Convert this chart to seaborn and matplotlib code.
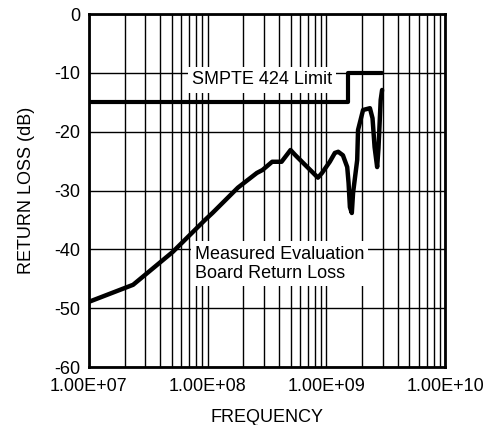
import seaborn as sns
import pandas as pd
import matplotlib.pyplot as plt
import matplotlib.ticker as mticker

# measured return loss
freq = [1.0e7, 2.36e7, 5.1e7, 9.5e7, 1.1e8, 1.8e8, 2.6e8, 2.9e8, 3.5e8, 4.2e8,
        5.0e8, 5.5e8, 8.5e8, 9.2e8, 1.07e9, 1.18e9, 1.26e9, 1.38e9, 1.5e9, 1.54e9,
        1.58e9, 1.64e9, 1.68e9, 1.82e9, 1.85e9, 2.04e9, 2.33e9, 2.45e9, 2.55e9,
        2.68e9, 2.75e9, 2.87e9, 2.95e9]
loss = [-48.9, -46.0, -40.4, -35.0, -33.8, -29.5, -27.0, -26.5, -25.1, -25.1,
        -23.1, -24.0, -27.8, -27.0, -25.1, -23.6, -23.4, -24.0, -26.0, -28.7,
        -32.8, -33.8, -30.4, -24.8, -19.7, -16.3, -16.0, -17.7, -22.6,
        -26.0, -22.8, -14.6, -12.9]

# SMPTE 424 limit (step)
limit_freq = [1.0e7, 1.52e9, 1.52e9, 2.95e9]
limit_loss = [-15, -15, -10, -10]

df_meas = pd.DataFrame({"freq": freq, "loss": loss})
df_lim = pd.DataFrame({"freq": limit_freq, "loss": limit_loss})

sns.set_style("white")
plt.rcParams["font.family"] = ["Liberation Sans", "DejaVu Sans"]
plt.rcParams["axes.unicode_minus"] = False
plt.rcParams["text.color"] = "black"
plt.rcParams["axes.labelcolor"] = "black"
plt.rcParams["xtick.color"] = "black"
plt.rcParams["ytick.color"] = "black"

fig = plt.figure(figsize=(4.88, 4.25), dpi=100)
ax = fig.add_axes([0.182, 0.136, 0.730, 0.831])

sns.lineplot(ax=ax, data=df_lim, x="freq", y="loss", color="black", lw=3,
             sort=False, estimator=None)
sns.lineplot(ax=ax, data=df_meas, x="freq", y="loss", color="black", lw=3.2,
             sort=False, estimator=None)

ax.set_xscale("log")
ax.set_xlim(1e7, 1e10)
ax.set_ylim(-60, 0)
ax.set_yticks(range(-60, 1, 10))
ax.yaxis.set_major_formatter(mticker.FuncFormatter(lambda v, p: "%d" % v))
ax.xaxis.set_major_locator(mticker.FixedLocator([1e7, 1e8, 1e9, 1e10]))
ax.xaxis.set_minor_locator(mticker.LogLocator(base=10, subs=range(2, 10)))
ax.xaxis.set_major_formatter(mticker.FuncFormatter(lambda v, p: "%.2E" % v))
ax.xaxis.set_minor_formatter(mticker.NullFormatter())

ax.grid(True, which="both", axis="x", color="black", lw=1)
ax.grid(True, which="major", axis="y", color="black", lw=1)
ax.tick_params(which="both", length=0, labelsize=13)
ax.tick_params(axis="x", pad=8)
ax.tick_params(axis="y", pad=6)
for s in ax.spines.values():
    s.set_color("black")
    s.set_linewidth(2)

ax.set_xlabel("FREQUENCY", fontsize=13, labelpad=10)
ax.set_ylabel("RETURN LOSS (dB)", fontsize=13, labelpad=14)

ax.text(7.4e7, -11.2, "SMPTE 424 Limit", fontsize=13, va="center", ha="left",
        bbox=dict(facecolor="white", edgecolor="none", pad=3), zorder=5)
ax.text(7.8e7, -42.4, "Measured Evaluation\nBoard Return Loss", fontsize=13,
        va="center", ha="left", linespacing=1.15,
        bbox=dict(facecolor="white", edgecolor="none", pad=3), zorder=5)

plt.savefig("out.png", dpi=100)
